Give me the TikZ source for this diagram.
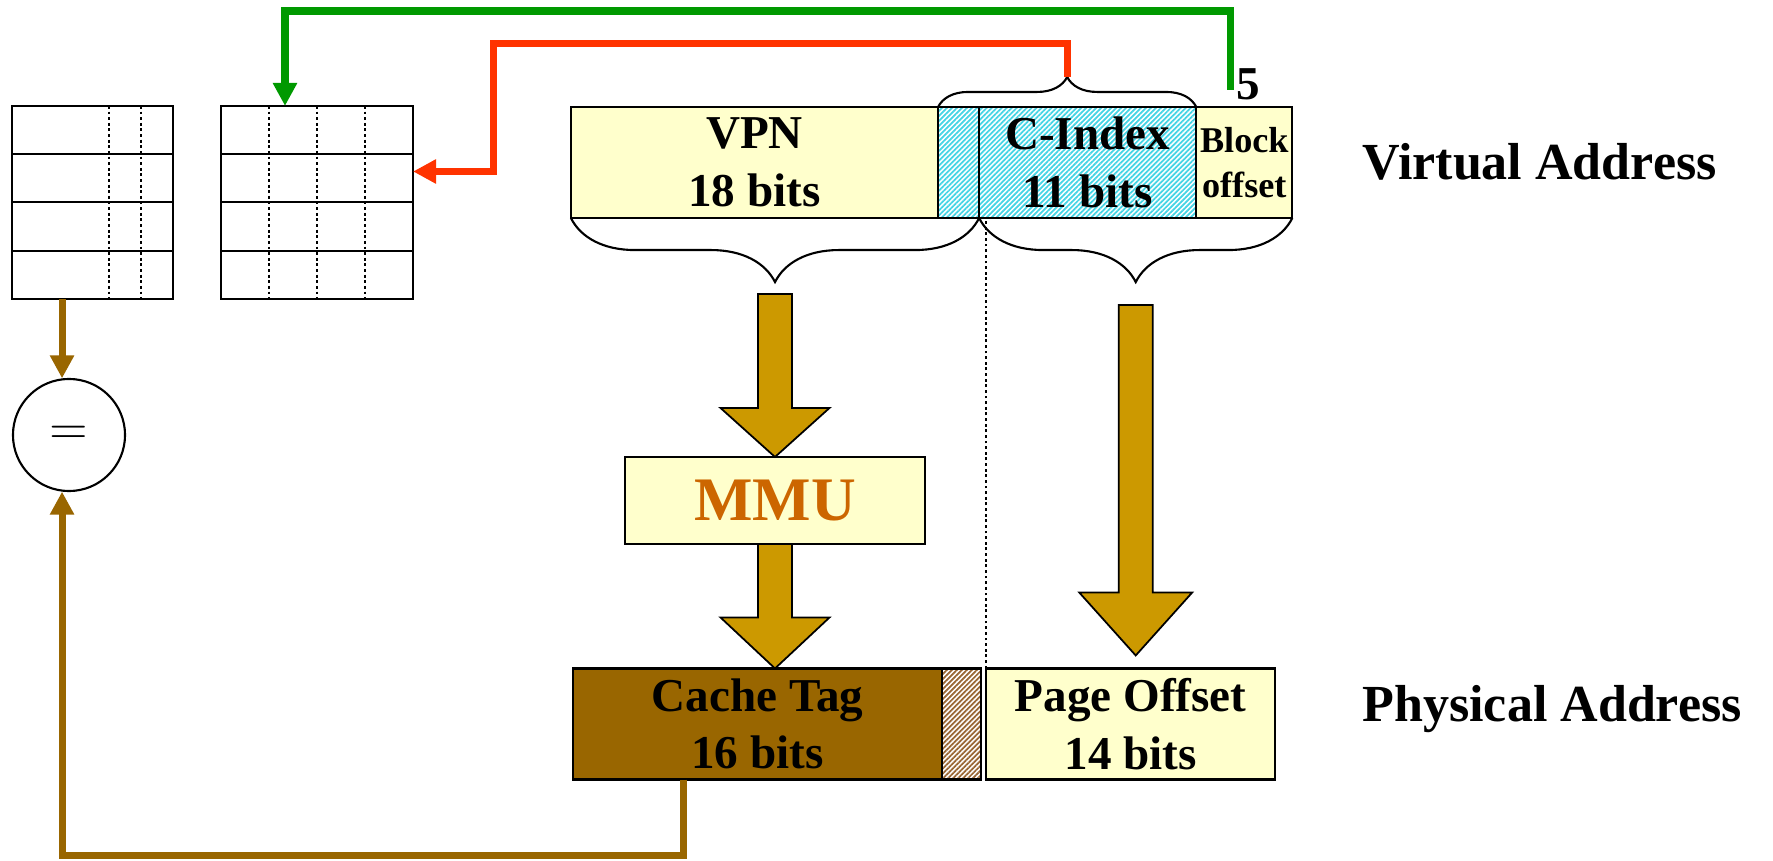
\documentclass[tikz,border=0pt]{standalone}
\usepackage{fontspec}
\setmainfont{Liberation Serif}
\usetikzlibrary{positioning,calc,arrows.meta,patterns.meta,decorations.pathreplacing}

\definecolor{paleyellow}{HTML}{FFFFCC}
\definecolor{tagbrown}{HTML}{996600}
\definecolor{arrowgold}{HTML}{CC9900}
\definecolor{mmuorange}{HTML}{CC6600}
\definecolor{hatchcyan}{HTML}{44D4E4}
\definecolor{hatchbrown}{HTML}{996633}
\definecolor{grnline}{HTML}{009900}
\definecolor{redline}{HTML}{FF3300}

\tikzset{
  field/.style={draw, line width=0.6pt, inner sep=0pt, outer sep=0pt, minimum height=1.11cm,
    align=center, font=\bfseries\fontsize{13.4}{16.4}\selectfont},
  vfield/.style={field, fill=paleyellow},
  hatchfield/.style={field, pattern={Lines[angle=45,distance=1pt,line width=0.5pt]}, pattern color=#1},
  tbl/.style={draw, line width=0.6pt, inner sep=0pt, outer sep=0pt, minimum height=1.93cm},
  sep/.style={line width=0.4pt, dash pattern=on 0.8pt off 0.8pt},
  fatarrow/.style={fill=arrowgold, draw=black, line width=0.5pt},
  link/.style={line width=2pt, -{Triangle[length=0.23cm,width=0.23cm]}},
  bracefield/.style={decorate, decoration={brace, amplitude=#1}, line width=0.6pt},
}

% fat arrow: start, tip, head length, head half width
\newcommand{\fatarrow}[4]{%
  \filldraw[fatarrow] ($(#1)+(-17,0)$) -- ($(#1)+(17,0)$) -- ($(#2)+(17,-#3)$)
    -- ($(#2)+(#4,-#3)$) -- (#2) -- ($(#2)+(-#4,-#3)$) -- ($(#2)+(-17,-#3)$) -- cycle;
}

\begin{document}
\begin{tikzpicture}[x=0.01cm, y=-0.01cm]
\useasboundingbox (0,0) rectangle (1773,861);

% tag and data arrays
\node[tbl, minimum width=1.61cm] (tagtbl) at (92.5,202.5) {};
\node[tbl, minimum width=1.92cm] (datatbl) at (317,202.5) {};
\foreach \y in {48.25,96.5,144.75} {
  \draw[line width=0.6pt] ($(tagtbl.north west)+(0,\y)$) -- ($(tagtbl.north east)+(0,\y)$);
  \draw[line width=0.6pt] ($(datatbl.north west)+(0,\y)$) -- ($(datatbl.north east)+(0,\y)$);
}
\foreach \x in {97,129}
  \draw[sep] ($(tagtbl.north west)+(\x,0)$) -- ($(tagtbl.south west)+(\x,0)$);
\foreach \x in {48,96,144}
  \draw[sep] ($(datatbl.north west)+(\x,0)$) -- ($(datatbl.south west)+(\x,0)$);

\node[draw, circle, line width=0.6pt, minimum size=1.12cm, inner sep=0pt,
  font=\fontsize{15}{15}\selectfont] (eq) at (69,435) {$=$};

% virtual address
\node[vfield, minimum width=3.67cm] (vpn) at (754.5,162.5) {VPN\\18 bits};
\node[hatchfield=hatchcyan, minimum width=0.41cm, right=0pt of vpn] (vhatch) {};
\node[hatchfield=hatchcyan, minimum width=2.17cm, right=0pt of vhatch] (cidx) {C-Index\\11 bits};
\node[vfield, minimum width=0.96cm, right=0pt of cidx,
  font=\bfseries\fontsize{10.3}{13}\selectfont] (blk) {Block\\offset};
\node[anchor=base west, font=\bfseries\fontsize{14.8}{18}\selectfont] (valabel) at (1350,180) {Virtual Address};

% physical address
\node[field, fill=tagbrown, minimum width=3.69cm] (ctag) at (757.5,724) {Cache Tag\\16 bits};
\node[hatchfield=hatchbrown, minimum width=0.39cm, right=0pt of ctag] (phatch) {};
\node[vfield, minimum width=2.89cm, right=0.05cm of phatch] (poff) {Page Offset\\14 bits};
\node[anchor=base west, font=\bfseries\fontsize{14.8}{18}\selectfont] (palabel) at (1350,721) {Physical Address};

\node[field, fill=paleyellow, minimum width=3cm, minimum height=0.87cm, text=mmuorange,
  font=\bfseries\fontsize{17.6}{20}\selectfont] (mmu) at (775,500.5) {MMU};

% braces
\draw[bracefield=0.3cm] (vhatch.north west) -- (cidx.north east);
\draw[bracefield=0.64cm] (vhatch.south east) -- (vpn.south west);
\draw[bracefield=0.64cm] (blk.south east) -- (cidx.south west);
\coordinate (ctip) at ($(vhatch.north west)!0.5!(cidx.north east)+(0,-30)$);
\coordinate (vpntip) at ($(vpn.south west)!0.5!(vhatch.south east)+(0,64)$);
\coordinate (offtip) at ($(cidx.south west)!0.5!(blk.south east)+(0,64)$);

\draw[sep] (poff.north west) -- (poff.north west |- cidx.south);

% fat arrows
\coordinate (vpnarr) at ($(vpntip)+(0,12)$);
\coordinate (ctagin) at (ctag.north -| mmu.south);
\coordinate (offarr) at ($(offtip)+(0,23)$);
\coordinate (poffin) at ($(offarr |- poff.north)+(0,-13)$);
\fatarrow{vpnarr}{mmu.north}{49}{54.5}
\fatarrow{mmu.south}{ctagin}{51}{54.5}
\fatarrow{offarr}{poffin}{63}{56.5}

% connectors
\coordinate (grnstart) at (1230,90);
\coordinate (grnin) at ($(datatbl.north)+(-32,0)$);
\coordinate (redin) at ($(datatbl.east)+(0,-31)$);
\coordinate (ctagout) at ($(ctag.south west)+(111,0)$);
\node[font=\bfseries\fontsize{13.4}{16}\selectfont] (five) at (1248,84) {5};
\draw[link, grnline] (grnstart) -- ++(0,-79) -| (grnin);
\draw[link, redline] (ctip) -- ++(0,-33) -| ($(redin)+(80,0)$) -- (redin);
\draw[link, tagbrown] (tagtbl.south -| eq.97) -- (eq.97);
\draw[link, tagbrown] (ctagout) -- ++(0,76) -| (eq.263);
\end{tikzpicture}
\end{document}
